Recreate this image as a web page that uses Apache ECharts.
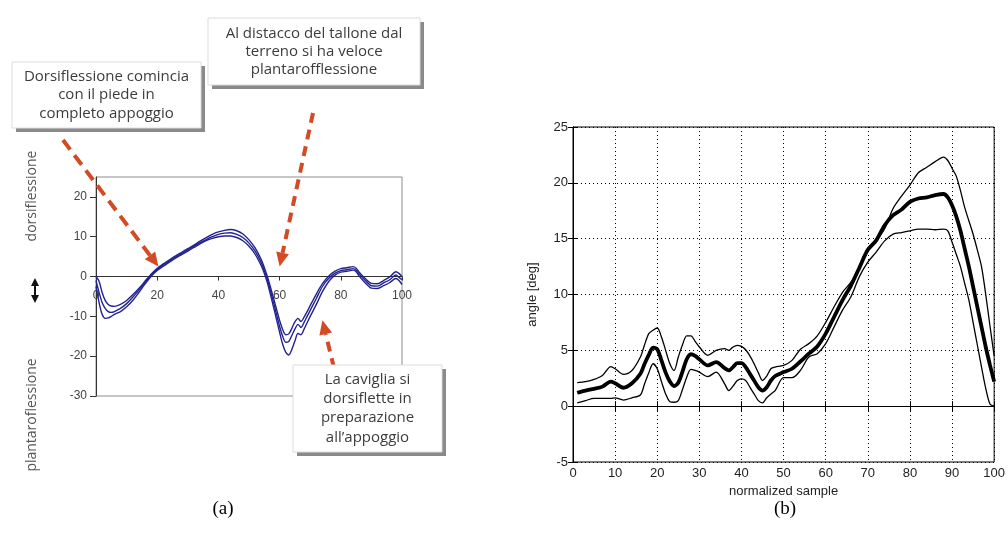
<!DOCTYPE html>
<html>
<head>
<meta charset="utf-8">
<script src="https://cdn.jsdelivr.net/npm/echarts@6/dist/echarts.min.js"></script>
<style>
  html, body { margin: 0; padding: 0; background: #fff; }
  #chart { width: 1008px; height: 543px; }
</style>
</head>
<body>
<div id="chart"></div>
<script>
// ---------- Panel (a): ankle angle, three gait trials ----------
const sampleA = [0,1,2,3,4,5,6,8,10,12,14,16,18,20,22,24,26,28,30,32,34,36,38,40,42,44,46,48,50,52,54,
  55,56,57,58,59,60,61,62,63,64,65,66,67,68,69,70,72,74,76,78,80,82,84,85,86,88,90,92,94,96,98,99,100];
const trialHigh = [0,-1.2,-4,-6,-7,-7.4,-7.5,-7,-6,-4.6,-3,-1.2,0.6,2.1,3.2,4.2,5.2,6.1,7.0,7.9,8.9,9.8,10.6,11.2,11.6,11.8,11.5,10.7,9.2,7.2,4.3,
  2.3,0,-2.6,-5.4,-8.2,-11,-13.3,-14.6,-14.4,-13.0,-11.4,-10.5,-11.3,-10.2,-8.8,-7.3,-4.4,-1.8,0.1,1.3,2.0,2.2,2.5,2.1,1.1,-0.5,-1.7,-1.8,-1.0,-0.1,1.2,0.8,0];
const trialMid = [-1,-4,-6.5,-8,-8.8,-9,-8.8,-8,-6.8,-5.2,-3.4,-1.5,0.3,1.8,2.9,3.9,4.9,5.8,6.7,7.6,8.5,9.3,10.0,10.6,10.9,11.0,10.6,9.8,8.4,6.4,3.5,
  1.5,-0.8,-3.5,-6.5,-9.5,-12.5,-15.0,-16.5,-16.3,-14.8,-13.2,-12.0,-12.8,-11.5,-10.0,-8.5,-5.5,-2.5,-0.5,0.8,1.5,1.7,2.0,1.6,0.6,-1.0,-2.3,-2.4,-1.6,-0.8,0.4,-0.2,-0.8];
const trialLow = [-2.5,-6.5,-9.5,-10.5,-10.4,-10.0,-9.5,-8.8,-7.6,-6.0,-4.0,-1.9,0.0,1.5,2.6,3.6,4.6,5.5,6.4,7.3,8.2,9.0,9.6,10.0,10.2,10.2,9.8,9.0,7.6,5.6,2.7,
  0.8,-1.6,-4.5,-7.6,-10.8,-14,-17,-19,-19.7,-18.3,-16.2,-14.3,-14.6,-13.2,-11.6,-10.0,-7.0,-3.8,-1.3,0.3,1.1,1.3,1.6,1.2,0.1,-1.6,-2.9,-3.0,-2.3,-1.5,-0.5,-1.0,-2.0];
const xTicksA = [0,20,40,60,80,100];
const yTicksA = [-30,-20,-10,0,10,20];
const yRangeA = [-30, 25];

// Callouts: text, and the data point each arrow points to
const noteContact = 'Dorsiflessione comincia\ncon il piede in\ncompleto appoggio';
const noteHeelOff = 'Al distacco del tallone dal\nterreno si ha veloce\nplantarofflessione';
const noteSwing   = 'La caviglia si\ndorsiflette in\npreparazione\nall\u2019appoggio';
const tipContact = [20.4, 2.5];
const tipHeelOff = [60, 2.5];
const tipSwing   = [74, -11];

// ---------- Panel (b): mean angle with upper/lower bounds ----------
const sampleB = [1,3,5,7,9,10,12,14,16,17,18,19,20,21,22,23,24,25,26,27,28,29,30,32,34,36,
  37,38,39,40,41,42,43,44,45,46,47,48,50,52,54,56,58,60,62,64,66,68,70,72,74,76,78,80,82,84,86,88,
  89,90,91,92,93,94,95,96,97,98,99,100];
const angleMean = [1.2,1.4,1.55,1.75,2.2,2.05,1.65,2.05,2.9,
  3.8,4.6,5.25,5.1,4.1,3.0,2.2,1.8,2.1,3.1,4.2,4.65,4.5,4.2,3.65,3.95,3.4,
  3.2,3.5,3.85,3.85,3.5,2.9,2.3,1.7,1.4,1.7,2.3,2.7,
  3.05,3.35,4.0,4.7,5.35,6.5,8.0,9.5,10.8,12.4,14.0,14.85,16.2,17.1,17.6,18.3,18.6,18.7,18.9,19.0,
  18.7,18.0,17.0,15.7,14.1,12.5,10.7,8.9,7.1,5.3,3.7,2.2];
const angleUpper = [2.1,2.2,2.4,2.75,3.55,3.35,2.85,3.2,4.4,
  5.5,6.5,6.8,7.0,6.2,5.0,3.8,3.2,4.4,5.5,6.3,6.3,5.8,5.3,4.55,5.0,5.15,
  5.0,5.3,5.45,5.35,5.05,4.5,3.8,3.0,2.3,2.7,3.35,3.5,
  3.65,4.1,5.1,5.6,6.3,7.5,8.9,10.2,11.1,12.5,14.1,14.85,15.9,17.7,18.8,19.8,20.9,21.4,21.9,22.3,
  22.0,21.3,20.6,19.3,17.8,16.6,15.4,14.0,12.5,10.0,7.2,4.5];
const angleLower = [0.3,0.5,0.7,0.7,0.7,0.75,0.55,0.75,1.0,
  2.0,3.0,3.8,3.35,2.2,1.1,0.4,0.35,0.5,1.5,2.6,3.3,3.2,3.05,2.65,3.05,2.0,
  1.4,1.8,2.3,2.45,2.3,1.7,1.1,0.5,0.3,0.75,1.1,1.4,
  2.55,2.55,3.2,4.4,4.7,5.6,7.1,8.6,9.8,11.6,12.9,13.8,14.8,15.4,15.55,15.7,15.85,15.85,15.8,15.85,
  15.7,14.7,13.6,12.5,11.0,9.5,7.5,5.5,3.5,1.6,0.2,0];

const pairs = (xs, ys) => xs.map((x, i) => [x, ys[i]]);

const chart = echarts.init(document.getElementById('chart'), null, { renderer: 'canvas' });

const navy = '#23238f';
const sans = 'Liberation Sans';
const gridA = { left: 96, top: 177, width: 306, height: 219 };
// lift the horizontal axis of panel (a) from the bottom edge up to y = 0
const zeroLiftA = -gridA.height * (0 - yRangeA[0]) / (yRangeA[1] - yRangeA[0]);

const matlabAxis = {
  axisLine: { show: true, lineStyle: { color: '#000', width: 1 } },
  axisTick: { show: true, inside: true, length: 5, lineStyle: { color: '#000' } }
};

chart.setOption({
  animation: false,
  backgroundColor: '#fff',
  grid: [
    Object.assign({ show: true, borderColor: '#8c8c8c', borderWidth: 1 }, gridA),
    { left: 573, top: 127, width: 424, height: 335, show: true, borderColor: '#000', borderWidth: 1 }
  ],
  xAxis: [
    {
      gridIndex: 0, type: 'value', min: 0, max: 100, position: 'bottom', offset: zeroLiftA,
      axisLine: { onZero: false, lineStyle: { color: '#333', width: 1 } },
      axisTick: { show: true, length: 4, customValues: xTicksA, lineStyle: { color: '#333' } },
      axisLabel: { margin: 13, color: '#444', fontFamily: sans, fontSize: 12, customValues: xTicksA },
      splitLine: { show: false }
    },
    Object.assign({
      gridIndex: 1, type: 'value', min: 0, max: 100, interval: 10, position: 'bottom',
      axisLabel: { margin: 5, color: '#222', fontFamily: sans, fontSize: 13 },
      splitLine: { show: true, lineStyle: { color: '#000', width: 1, type: [1, 3] } },
      name: 'normalized sample', nameLocation: 'middle', nameGap: 23,
      nameTextStyle: { color: '#222', fontFamily: sans, fontSize: 13 }
    }, matlabAxis),
    Object.assign({
      gridIndex: 1, type: 'value', min: 0, max: 100, interval: 10, position: 'top',
      axisLabel: { show: false }, splitLine: { show: false }
    }, matlabAxis)
  ],
  yAxis: [
    {
      gridIndex: 0, type: 'value', min: yRangeA[0], max: yRangeA[1],
      axisLine: { show: true, onZero: false, lineStyle: { color: '#333', width: 1 } },
      axisTick: { show: true, length: 6, customValues: yTicksA, lineStyle: { color: '#333' } },
      axisLabel: { margin: 9, color: '#444', fontFamily: sans, fontSize: 12, customValues: yTicksA },
      splitLine: { show: false }
    },
    Object.assign({
      gridIndex: 1, type: 'value', min: -5, max: 25, interval: 5, position: 'left',
      axisLabel: { margin: 5, color: '#222', fontFamily: sans, fontSize: 13 },
      splitLine: { show: true, lineStyle: { color: '#000', width: 1, type: [1, 3] } },
      name: 'angle [deg]', nameLocation: 'middle', nameGap: 34, nameRotate: 90,
      nameTextStyle: { color: '#222', fontFamily: sans, fontSize: 13 }
    }, matlabAxis),
    Object.assign({
      gridIndex: 1, type: 'value', min: -5, max: 25, interval: 5, position: 'right',
      axisLabel: { show: false }, splitLine: { show: false }
    }, matlabAxis)
  ],
  series: [
    { type: 'line', xAxisIndex: 0, yAxisIndex: 0, data: pairs(sampleA, trialHigh), showSymbol: false, smooth: 0.3,
      lineStyle: { color: navy, width: 1.4 }, z: 3 },
    { type: 'line', xAxisIndex: 0, yAxisIndex: 0, data: pairs(sampleA, trialMid), showSymbol: false, smooth: 0.3,
      lineStyle: { color: navy, width: 1.4 }, z: 3 },
    { type: 'line', xAxisIndex: 0, yAxisIndex: 0, data: pairs(sampleA, trialLow), showSymbol: false, smooth: 0.3,
      lineStyle: { color: navy, width: 1.4 }, z: 3 },
    { type: 'line', xAxisIndex: 1, yAxisIndex: 1, data: pairs(sampleB, angleUpper), showSymbol: false, smooth: 0.3,
      lineStyle: { color: '#000', width: 1.3 } },
    { type: 'line', xAxisIndex: 1, yAxisIndex: 1, data: pairs(sampleB, angleMean), showSymbol: false, smooth: 0.3,
      lineStyle: { color: '#000', width: 3.8 } },
    { type: 'line', xAxisIndex: 1, yAxisIndex: 1, data: pairs(sampleB, angleLower), showSymbol: false, smooth: 0.3,
      lineStyle: { color: '#000', width: 1.3 } }
  ]
});

// ---------- Annotations for panel (a) ----------
const arrowColor = '#d24b25';
const noteFont = '15px "Open Sans"';
const noteColor = '#3c3c3c';

function arrow(tail, tipData, dash) {
  const tip = chart.convertToPixel({ gridIndex: 0 }, tipData);
  const dx = tip[0] - tail[0], dy = tip[1] - tail[1];
  const len = Math.hypot(dx, dy);
  const ux = dx / len, uy = dy / len;
  const headL = 14, headW = 6.5;
  const bx = tip[0] - ux * headL, by = tip[1] - uy * headL;
  return [
    { type: 'line', z: 50, shape: { x1: tail[0], y1: tail[1], x2: bx, y2: by },
      style: { stroke: arrowColor, lineWidth: 4, lineDash: dash } },
    { type: 'polygon', z: 50, shape: { points: [tip, [bx - uy * headW, by + ux * headW], [bx + uy * headW, by - ux * headW]] },
      style: { fill: arrowColor } }
  ];
}

function callout(x, y, w, h, text, lineHeight) {
  return [
    { type: 'rect', z: 60, shape: { x: x + 4, y: y + 4, width: w, height: h }, style: { fill: '#8a8a8a' } },
    { type: 'rect', z: 61, shape: { x: x, y: y, width: w, height: h }, style: { fill: '#fff', stroke: '#dcdcdc', lineWidth: 1 } },
    { type: 'text', z: 62, x: x + w / 2, y: y + h / 2,
      style: { text: text, font: noteFont, fill: noteColor, align: 'center', verticalAlign: 'middle', lineHeight: lineHeight } }
  ];
}

function doubleArrow(cx, top, bottom) {
  return [
    { type: 'line', z: 20, shape: { x1: cx, y1: top + 6, x2: cx, y2: bottom - 6 }, style: { stroke: '#111', lineWidth: 2 } },
    { type: 'polygon', z: 20, shape: { points: [[cx, top], [cx - 4, top + 8], [cx + 4, top + 8]] }, style: { fill: '#111' } },
    { type: 'polygon', z: 20, shape: { points: [[cx, bottom], [cx - 4, bottom - 8], [cx + 4, bottom - 8]] }, style: { fill: '#111' } }
  ];
}

const graphics = [].concat(
  [
    { type: 'text', z: 20, x: 32, y: 196, rotation: Math.PI / 2,
      style: { text: 'dorsiflessione', font: '14px "Open Sans"', fill: '#555', align: 'center', verticalAlign: 'middle' } },
    { type: 'text', z: 20, x: 32, y: 415, rotation: Math.PI / 2,
      style: { text: 'plantaroflessione', font: '14px "Open Sans"', fill: '#555', align: 'center', verticalAlign: 'middle' } }
  ],
  doubleArrow(35, 278, 303),
  arrow([63, 140], tipContact, [12, 7]),
  arrow([313, 113], tipHeelOff, [10, 7]),
  arrow([334, 368], tipSwing, [10, 7]),
  callout(12, 62, 189, 66, noteContact, 18.7),
  callout(208, 18, 212, 67, noteHeelOff, 18),
  callout(293, 365, 149, 87, noteSwing, 19.4),
  [
    { type: 'text', z: 20, x: 223, y: 509,
      style: { text: '(a)', font: '19px "Liberation Serif"', fill: '#000', align: 'center', verticalAlign: 'middle' } },
    { type: 'text', z: 20, x: 785, y: 509,
      style: { text: '(b)', font: '19px "Liberation Serif"', fill: '#000', align: 'center', verticalAlign: 'middle' } }
  ]
);

chart.setOption({ graphic: { elements: graphics } });
</script>
</body>
</html>
